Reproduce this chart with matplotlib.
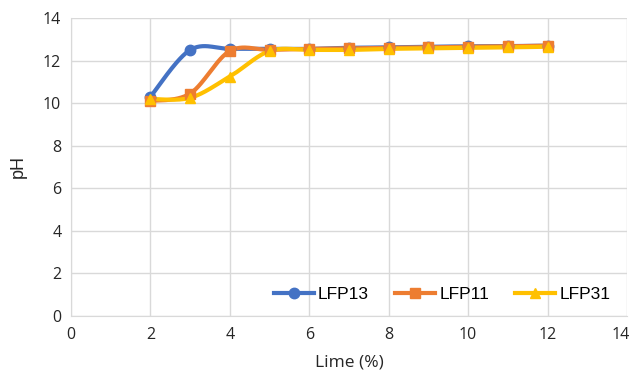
import numpy as np
import matplotlib.pyplot as plt
from matplotlib.transforms import ScaledTranslation

lime = [2, 3, 4, 5, 6, 7, 8, 9, 10, 11, 12]
lfp13 = [10.3, 12.5, 12.55, 12.55, 12.55, 12.6, 12.62, 12.65, 12.67, 12.68, 12.7]
lfp11 = [10.1, 10.45, 12.45, 12.5, 12.55, 12.57, 12.6, 12.62, 12.65, 12.67, 12.7]
lfp31 = [10.2, 10.25, 11.25, 12.45, 12.5, 12.5, 12.55, 12.57, 12.6, 12.62, 12.65]


def smooth(x, y, n=30):
    # Excel-like smoothed line: cubic bezier with catmull-rom control points
    x = np.asarray(x, float)
    y = np.asarray(y, float)
    px = np.concatenate([[x[0]], x, [x[-1]]])
    py = np.concatenate([[y[0]], y, [y[-1]]])
    xs, ys = [], []
    t = np.linspace(0, 1, n)
    for i in range(1, len(px) - 2):
        p0 = np.array([px[i], py[i]])
        p3 = np.array([px[i + 1], py[i + 1]])
        c1 = p0 + (np.array([px[i + 1], py[i + 1]]) - np.array([px[i - 1], py[i - 1]])) / 6
        c2 = p3 - (np.array([px[i + 2], py[i + 2]]) - np.array([px[i], py[i]])) / 6
        b = ((1 - t) ** 3)[:, None] * p0 + (3 * (1 - t) ** 2 * t)[:, None] * c1 \
            + (3 * (1 - t) * t ** 2)[:, None] * c2 + (t ** 3)[:, None] * p3
        xs.extend(b[:, 0])
        ys.extend(b[:, 1])
    return xs, ys


fig = plt.figure(figsize=(6.32, 3.72), dpi=100)
ax = fig.add_axes([71 / 632, 1 - 316 / 372, (627 - 71) / 632, (316 - 18) / 372])

series = [
    (lfp13, '#4472C4', 'o', 'LFP13'),
    (lfp11, '#ED7D31', 's', 'LFP11'),
    (lfp31, '#FFC000', '^', 'LFP31'),
]
handles = []
for y, c, m, lab in series:
    sx, sy = smooth(lime, y)
    ax.plot(sx, sy, color=c, lw=3, solid_capstyle='round', zorder=3)
    ax.plot(lime, y, ls='none', marker=m, color=c, ms=7.5, zorder=4)
    h, = ax.plot([], [], color=c, lw=3, marker=m, ms=7.5)
    handles.append(h)

ax.set_xlim(0, 14)
ax.set_ylim(0, 14)
ax.set_xticks(range(0, 15, 2))
ax.set_yticks(range(0, 15, 2))
ax.grid(True, color='#D9D9D9', lw=1)
ax.set_axisbelow(True)
for s in ['top', 'right']:
    ax.spines[s].set_visible(False)
for s in ['left', 'bottom']:
    ax.spines[s].set_color('#D9D9D9')
ax.tick_params(length=0, labelsize=11.5, colors='#262626')
ax.tick_params(axis='x', pad=8)
ax.tick_params(axis='y', pad=7)
for lbl in ax.get_xticklabels() + ax.get_yticklabels():
    lbl.set_family('Open Sans')
# keep the last x label inside the figure, like the original
last = ax.get_xticklabels()[-1]
last.set_transform(last.get_transform() + ScaledTranslation(-6 / 100, 0, fig.dpi_scale_trans))

ax.set_xlabel('Lime (%)', fontsize=12.5, family='Open Sans', color='#262626', labelpad=8)
ax.set_ylabel('pH', fontsize=13, family='Liberation Sans', color='#262626', labelpad=12)

ax.legend(handles, ['LFP13', 'LFP11', 'LFP31'], ncol=3, frameon=False,
          loc='center', bbox_to_anchor=((442 - 71) / 556, (316 - 294) / 298),
          prop={'family': 'Liberation Sans', 'size': 12.5},
          handlelength=2.3, columnspacing=1.5, handletextpad=0.25)

fig.savefig('out.png', dpi=100)
